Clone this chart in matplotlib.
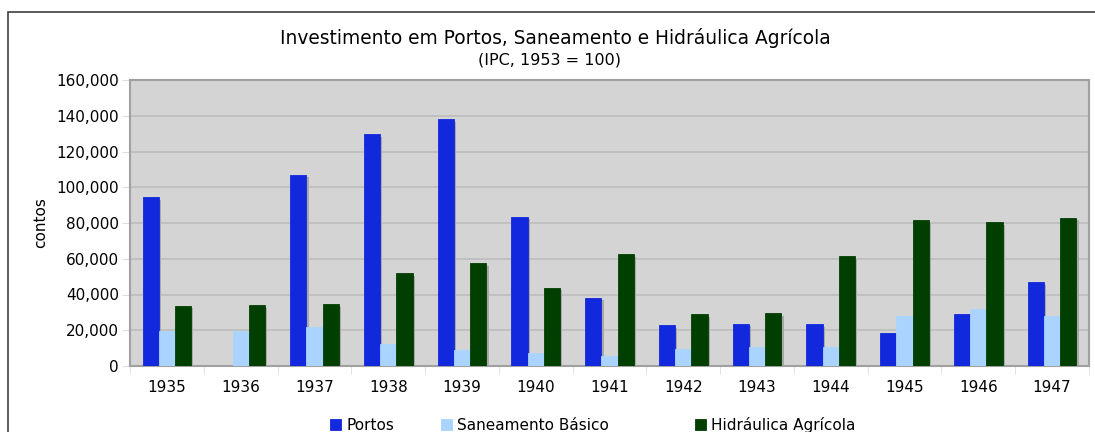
import numpy as np
import matplotlib.pyplot as plt
from matplotlib.patches import Rectangle

anos = ['1935', '1936', '1937', '1938', '1939', '1940', '1941',
        '1942', '1943', '1944', '1945', '1946', '1947']
portos = [94500, 0, 107000, 129800, 138000, 83500, 38200,
          22700, 23700, 23500, 18500, 29100, 46800]
saneamento = [19800, 19700, 22000, 12300, 9000, 7400, 5600,
              9300, 10800, 10800, 27800, 32000, 28200]
hidraulica = [33700, 34100, 34700, 52000, 57600, 43800, 62400,
              28900, 29600, 61500, 81700, 80600, 83000]

series = [('Portos', portos, '#1128dc'),
          ('Saneamento Básico', saneamento, '#aad4ff'),
          ('Hidráulica Agrícola', hidraulica, '#003f00')]

plt.rcParams['font.family'] = ['DejaVu Sans']

fig = plt.figure(figsize=(10.95, 4.32), dpi=100)
fig.patches.append(Rectangle((8 / 1095, -0.1), 1.2, (432 - 12) / 432 + 0.1,
                             transform=fig.transFigure, fill=False,
                             edgecolor='#404040', linewidth=1.2))

ax = fig.add_axes([130 / 1095, 66 / 432, 959 / 1095, 286 / 432])
ax.set_facecolor('#d4d4d4')

x = np.arange(len(anos))
w = 0.22
handles = []
for i, (nome, vals, cor) in enumerate(series):
    pos = x + (i - 1) * w
    # sombra
    ax.bar(pos + 0.03, vals, w, bottom=-1500, color='#a8a8a8', zorder=2)
    b = ax.bar(pos, vals, w, color=cor, edgecolor=cor, linewidth=0.6,
               label=nome, zorder=3)
    handles.append(b)

ax.set_ylim(0, 160000)
ax.set_xlim(-0.5, len(anos) - 0.5)
ax.set_yticks(range(0, 160001, 20000))
ax.yaxis.set_major_formatter(plt.FuncFormatter(lambda v, p: f'{int(v):,}'))
ax.yaxis.grid(True, color='#bcbcbc', linewidth=1.2, zorder=0)
ax.set_axisbelow(True)

ax.set_xticks(x)
ax.set_xticklabels(anos)
ax.set_xticks(np.arange(-0.5, len(anos)), minor=True)
ax.tick_params(axis='x', which='major', length=0, pad=10, labelsize=11)
ax.tick_params(axis='x', which='minor', length=6, color='#dddddd')
ax.tick_params(axis='y', length=6, color='#dddddd', labelsize=11, pad=2)

for s in ax.spines.values():
    s.set_color('#a0a0a0')
    s.set_linewidth(1.5)

ax.set_ylabel('contos', fontsize=11, labelpad=6)

fig.text(555 / 1095, 1 - 38 / 432, 'Investimento em Portos, Saneamento e Hidráulica Agrícola',
         ha='center', va='center', fontsize=13.4)
fig.text(549 / 1095, 1 - 60 / 432, '(IPC, 1953 = 100)',
         ha='center', va='center', fontsize=11.5)

# legenda: uma entrada por posição (fig.legend já a junta à figura)
leg_x = [330, 441, 695]
for h, (nome, _, _), lx in zip(handles, series, leg_x):
    fig.legend([h], [nome], loc='center left',
               bbox_to_anchor=(lx / 1095, 1 - 425 / 432),
               frameon=False, fontsize=11, handlelength=0.75,
               handleheight=0.75, handletextpad=0.3, borderpad=0,
               borderaxespad=0)

fig.savefig('out.png', dpi=100)
